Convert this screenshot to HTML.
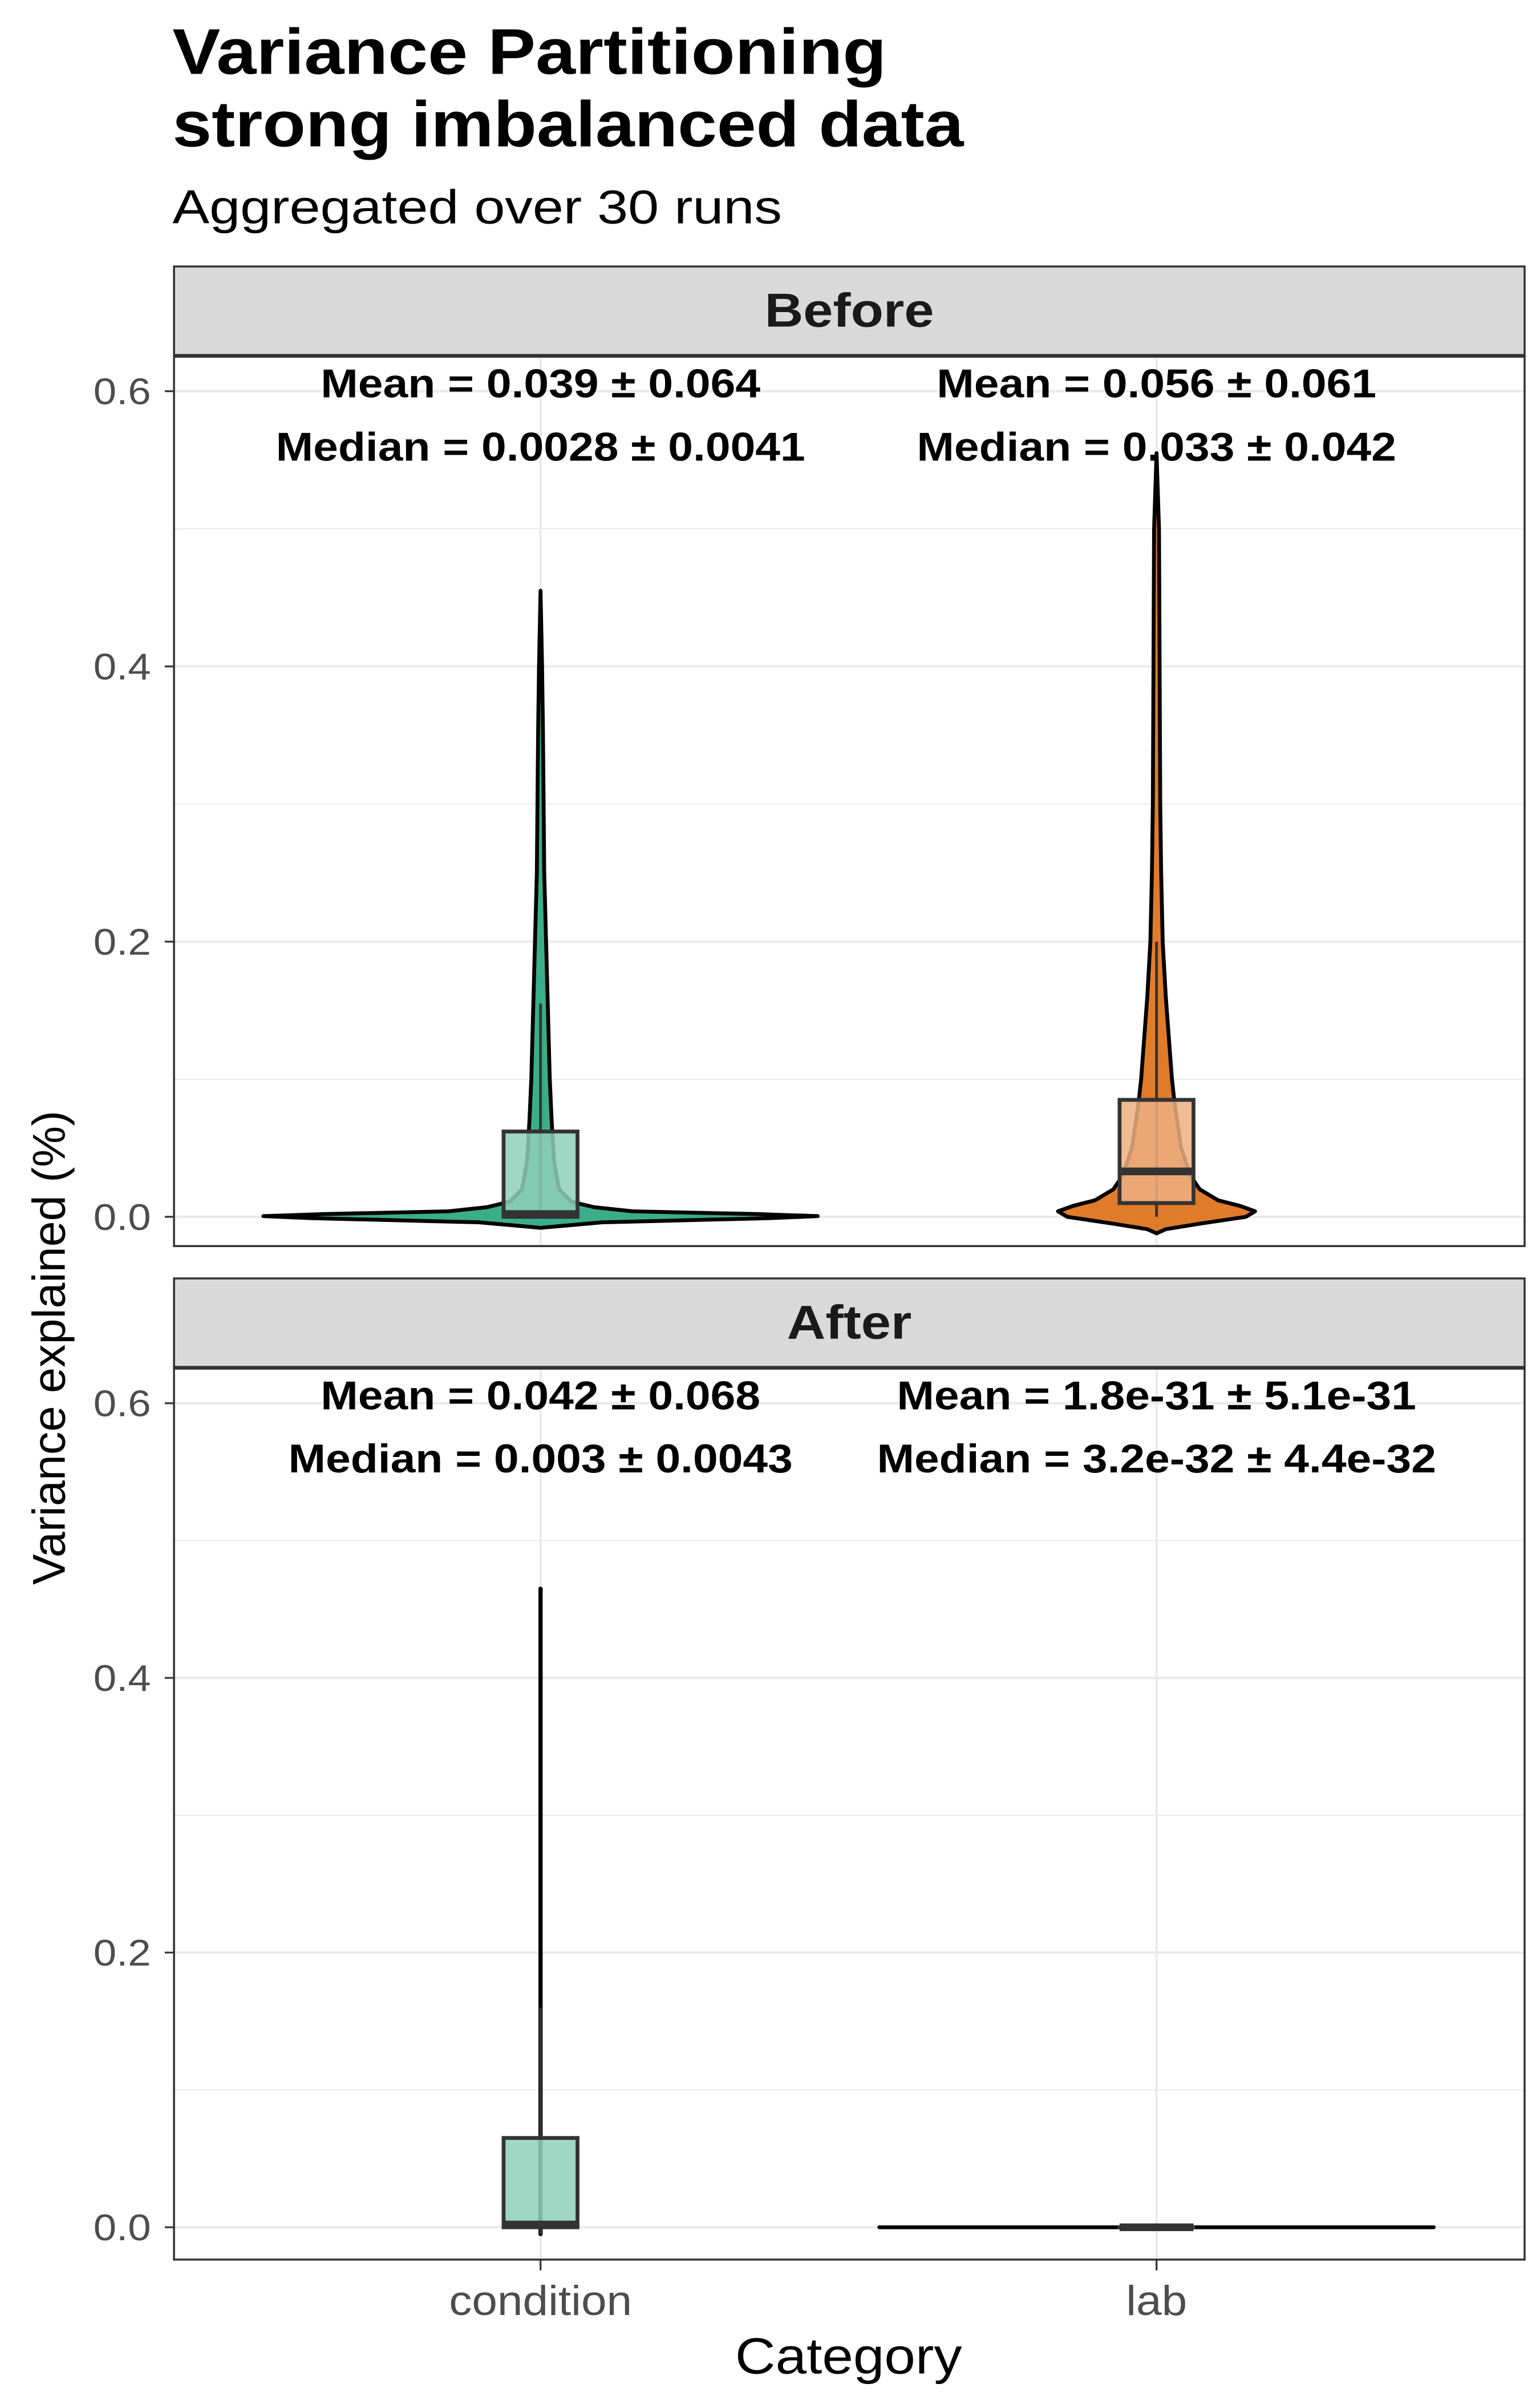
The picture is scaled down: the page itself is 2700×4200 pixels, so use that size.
<!DOCTYPE html>
<html><head><meta charset="utf-8"><style>
html,body{margin:0;padding:0;background:#fff}
svg{display:block}
text{font-family:"Liberation Sans","DejaVu Sans",sans-serif}
</style></head><body>
<svg id="chart" xmlns="http://www.w3.org/2000/svg" width="2700" height="4200" viewBox="0 0 1000 1555.56">
<rect width="1000" height="1555.56" fill="#fff"/>
<text id="t1" x="112" y="48" font-size="42" font-weight="bold" fill="#000">Variance Partitioning</text>
<text id="t2" x="112" y="95" font-size="42" font-weight="bold" fill="#000">strong imbalanced data</text>
<text id="t3" x="112" y="145" font-size="31" fill="#000">Aggregated over 30 runs</text>
<text id="t4" transform="translate(42,875) rotate(-90)" text-anchor="middle" font-size="30" fill="#000">Variance explained (%)</text>
<text id="t5" x="551" y="1541" text-anchor="middle" font-size="33" fill="#000">Category</text>
<g id="plot"></g>
</svg>
<script>
const categories = ['condition', 'lab'];
const panels = ['Before', 'After'];
const yTicks = [0, 0.2, 0.4, 0.6];
const yTickLabels = ['0.0', '0.2', '0.4', '0.6'];
const yMinor = [0.1, 0.3, 0.5];
const condBeforeY = [-0.008,-0.004,-0.001,0.0005,0.002,0.004,0.007,0.011,0.02,0.04,0.07,0.1,0.15,0.2,0.25,0.3,0.35,0.4,0.455];
const condBeforeW = [0,0.1,0.37,0.45,0.35,0.15,0.087,0.05,0.03,0.022,0.018,0.015,0.012,0.009,0.006,0.005,0.004,0.0025,0];
const labBeforeY = [-0.012,-0.009,-0.005,0,0.004,0.008,0.012,0.02,0.03,0.05,0.08,0.1,0.13,0.16,0.2,0.25,0.3,0.4,0.5,0.555];
const labBeforeW = [0,0.015,0.07,0.145,0.16,0.135,0.1,0.07,0.055,0.04,0.03,0.025,0.02,0.015,0.01,0.0075,0.006,0.005,0.004,0];
const condAfterY = [-0.005, 0.465];
const condAfterW = [0.0003, 0.0003];
const labAfterY = [0, 0];
const labAfterW = [0.45, 0.45];
const condBeforeBox = [0, 0, 0.002, 0.062, 0.155];
const labBeforeBox = [0, 0.01, 0.033, 0.085, 0.2];
const condAfterBox = [-0.005, 0, 0.002, 0.065, 0.16];
const labAfterBox = [0, 0, 0, 0, 0];
const meanLabels = [['Mean = 0.039 ± 0.064','Mean = 0.056 ± 0.061'],['Mean = 0.042 ± 0.068','Mean = 1.8e-31 ± 5.1e-31']];
const medianLabels = [['Median = 0.0028 ± 0.0041','Median = 0.033 ± 0.042'],['Median = 0.003 ± 0.0043','Median = 3.2e-32 ± 4.4e-32']];

const NS = 'http://www.w3.org/2000/svg';
const root = document.getElementById('plot');
function mk(tag, attrs, parent){const e=document.createElementNS(NS,tag);for(const k in attrs)e.setAttribute(k,attrs[k]);(parent||root).appendChild(e);return e;}
function stretch(el, r){try{const w=el.getComputedTextLength();if(w>0){el.setAttribute('textLength',(w*r).toFixed(2));el.setAttribute('lengthAdjust','spacingAndGlyphs');}}catch(e){}}
const PL=113, PR=990;
const panelGeo=[{st:173,sb:231,pb:809,y0:790,y6:254},{st:830,sb:888,pb:1467,y0:1446,y6:911}];
function xScale(c){return 351 + (c)*400;}
const violins=[[[condBeforeY,condBeforeW],[labBeforeY,labBeforeW]],[[condAfterY,condAfterW],[labAfterY,labAfterW]]];
const boxes=[[condBeforeBox,labBeforeBox],[condAfterBox,labAfterBox]];
const fills=[['#3aae88','#e07b2a'],['#3aae88','#e07b2a']];
const boxFills=['#8fd0ba','#edb081'];

panels.forEach((pn,pi)=>{
  const g=panelGeo[pi];
  const yS=v=>g.y0-(v/0.6)*(g.y0-g.y6);
  const grp=mk('g',{});
  
  
  const bg=mk('rect',{x:PL,y:g.sb,width:PR-PL,height:g.pb-g.sb,fill:'#fff'},grp);
  
  
  yMinor.forEach(v=>{const l=mk('line',{x1:PL,x2:PR,y1:yS(v),y2:yS(v),stroke:'#ebebeb','stroke-width':0.8},grp);
    
    });
  yTicks.forEach((v,i)=>{const l=mk('line',{x1:PL,x2:PR,y1:yS(v),y2:yS(v),stroke:'#ebebeb','stroke-width':1.6},grp);
    
    
    const t=mk('line',{x1:PL-6,x2:PL,y1:yS(v),y2:yS(v),stroke:'#333','stroke-width':1.2},grp);
    
    
    const tx=mk('text',{x:PL-15,y:yS(v)+8.5,'text-anchor':'end','font-size':24,fill:'#4d4d4d'},grp);
    tx.textContent=yTickLabels[i];
    
    
    stretch(tx,1.12);});
  categories.forEach((c,ci)=>{const x=xScale(ci);
    const l=mk('line',{x1:x,x2:x,y1:g.sb,y2:g.pb,stroke:'#ebebeb','stroke-width':1.6},grp);
    
    });
  categories.forEach((c,ci)=>{
    const x=xScale(ci);
    const [vy,vw]=violins[pi][ci];
    let pts=[];
    for(let i=0;i<vy.length;i++)pts.push((x+vw[i]*400).toFixed(2)+','+yS(vy[i]).toFixed(2));
    for(let i=vy.length-1;i>=0;i--)pts.push((x-vw[i]*400).toFixed(2)+','+yS(vy[i]).toFixed(2));
    const vp=mk('polygon',{points:pts.join(' '),fill:fills[pi][ci],stroke:'#000','stroke-width':2.5,'stroke-linejoin':'round'},grp);
    
    
    const b=boxes[pi][ci];
    const hw=24;
    const wh=mk('line',{x1:x,x2:x,y1:yS(b[0]),y2:yS(b[4]),stroke:'#333','stroke-width':1.8},grp);
    
    
    const bx=mk('rect',{x:x-hw,y:yS(b[3]),width:2*hw,height:Math.max(yS(b[1])-yS(b[3]),0.01),fill:boxFills[ci],'fill-opacity':0.85,stroke:'#333','stroke-width':2.5},grp);
    
    
    const md=mk('line',{x1:x-hw,x2:x+hw,y1:yS(b[2]),y2:yS(b[2]),stroke:'#333','stroke-width':5},grp);
    
    
    const m1=mk('text',{x:x,y:g.sb+27,'text-anchor':'middle','font-size':26,'font-weight':'bold',fill:'#000'},grp);
    m1.textContent=meanLabels[pi][ci];
    
    
    stretch(m1,1.12);
    const m2=mk('text',{x:x,y:g.sb+68,'text-anchor':'middle','font-size':26,'font-weight':'bold',fill:'#000'},grp);
    m2.textContent=medianLabels[pi][ci];
    
    
    stretch(m2,1.12);
  });
  const br=mk('rect',{x:PL,y:g.sb,width:PR-PL,height:g.pb-g.sb,fill:'none',stroke:'#333','stroke-width':1.3},grp);
  
  
  const sr=mk('rect',{x:PL,y:g.st,width:PR-PL,height:g.sb-g.st,fill:'#d9d9d9',stroke:'#333','stroke-width':1.3},grp);
  
  
  const sl=mk('line',{x1:PL,x2:PR,y1:g.sb,y2:g.sb,stroke:'#333','stroke-width':2.4},grp);
  
  
  const st=mk('text',{x:(PL+PR)/2,y:(g.st+g.sb)/2+10,'text-anchor':'middle','font-size':31,'font-weight':'bold',fill:'#1a1a1a'},grp);
  st.textContent=pn;
  
  
  stretch(st,1.12);
});
categories.forEach((c,ci)=>{const x=xScale(ci);
  const t=mk('line',{x1:x,x2:x,y1:1467,y2:1474,stroke:'#333','stroke-width':1.2});
  
  
  const tx=mk('text',{x:x,y:1503,'text-anchor':'middle','font-size':27,fill:'#4d4d4d'});
  tx.textContent=c;
  
  
  stretch(tx,1.1);});
stretch(document.getElementById('t1'),1.11);
stretch(document.getElementById('t2'),1.09);
stretch(document.getElementById('t3'),1.16);
stretch(document.getElementById('t5'),1.1);
</script>
</body></html>
